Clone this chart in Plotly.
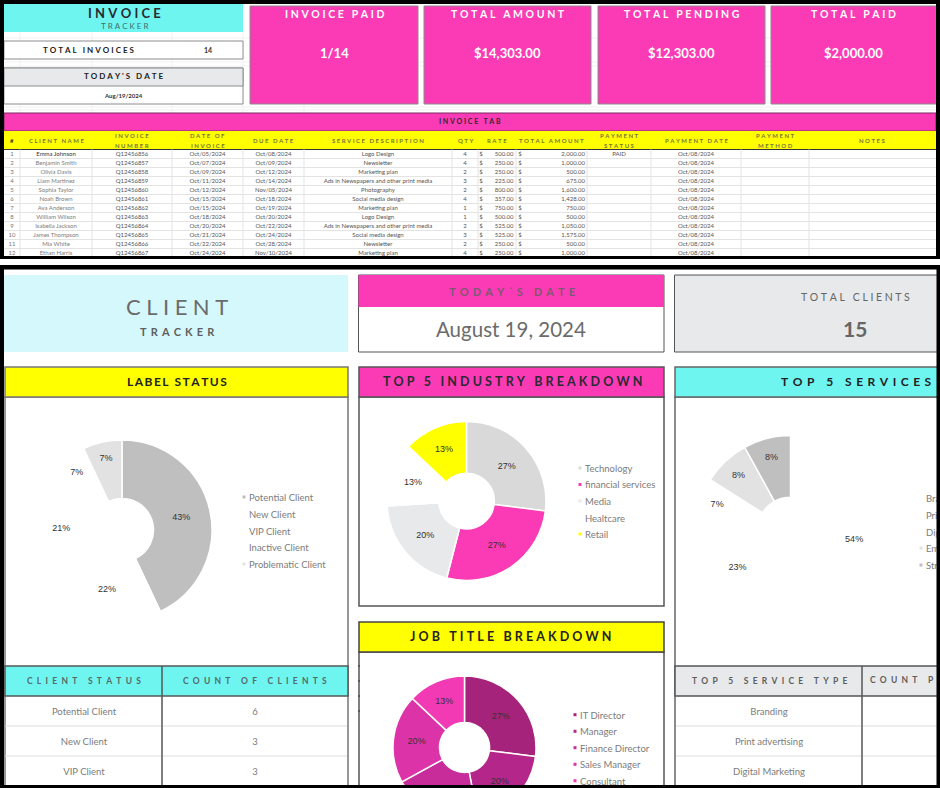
import plotly.graph_objects as go

W, H = 940, 860  # taller than the window so the job title donut runs off the bottom
FONT = "Lato"
PINK = "#fb3ab5"
CYAN = "#6ff5ef"
YELLOW = "#ffff00"
PALE = "#e7e9ea"
DARK = "#2a2a33"
GREY = "#6e6e6e"

# invoice sheet
kpi_titles = ["INVOICE PAID", "TOTAL AMOUNT", "TOTAL PENDING", "TOTAL PAID"]
kpi_values = ["1/14", "$14,303.00", "$12,303.00", "$2,000.00"]
kpi_left = [250, 424, 598, 771]
kpi_right = [418, 591, 765, 936]

col_edges = [4, 20, 92, 172, 243, 304, 452, 478, 516, 587, 651, 741, 809, 936]
col_heads = ["#", "CLIENT NAME", "INVOICE|NUMBER", "DATE OF|INVOICE", "DUE DATE", "SERVICE DESCRIPTION", "QTY",
             "RATE", "TOTAL AMOUNT", "PAYMENT|STATUS", "PAYMENT DATE", "PAYMENT|METHOD", "NOTES"]
row_no = ["1", "2", "3", "4", "5", "6", "7", "8", "9", "10", "11", "12"]
clients = ["Emma Johnson", "Benjamin Smith", "Olivia Davis", "Liam Martinez", "Sophia Taylor", "Noah Brown",
           "Ava Anderson", "William Wilson", "Isabella Jackson", "James Thompson", "Mia White", "Ethan Harris"]
invoice_no = ["Q12456856", "Q12456857", "Q12456858", "Q12456859", "Q12456860", "Q12456861",
              "Q12456862", "Q12456863", "Q12456864", "Q12456865", "Q12456866", "Q12456867"]
invoice_date = ["Oct/05/2024", "Oct/07/2024", "Oct/09/2024", "Oct/11/2024", "Oct/12/2024", "Oct/15/2024",
                "Oct/15/2024", "Oct/18/2024", "Oct/20/2024", "Oct/21/2024", "Oct/22/2024", "Oct/24/2024"]
due_date = ["Oct/08/2024", "Oct/09/2024", "Oct/12/2024", "Oct/14/2024", "Nov/05/2024", "Oct/18/2024",
            "Oct/19/2024", "Oct/20/2024", "Oct/22/2024", "Oct/24/2024", "Oct/28/2024", "Nov/10/2024"]
services = ["Logo Design", "Newsletter", "Marketing plan", "Ads in Newspapers and other print media", "Photography",
            "Social media design", "Marketing plan", "Logo Design", "Ads in Newspapers and other print media",
            "Social media design", "Newsletter", "Marketing plan"]
qty = ["4", "4", "2", "3", "2", "4", "1", "1", "2", "3", "2", "4"]
rate = ["500.00", "250.00", "250.00", "225.00", "800.00", "357.00", "750.00", "500.00", "525.00", "525.00", "250.00", "250.00"]
total = ["2,000.00", "1,000.00", "500.00", "675.00", "1,600.00", "1,428.00", "750.00", "500.00", "1,050.00", "1,575.00", "500.00", "1,000.00"]
status = ["PAID", "", "", "", "", "", "", "", "", "", "", ""]
paid_on = ["Oct/08/2024"] * 12

# client sheet
label_names = ["Potential Client", "New Client", "VIP Client", "Inactive Client", "Problematic Client"]
label_pct = [43, 22, 21, 7, 7]
label_colors = ["#bfbfbf", "#ffffff", "#ffffff", "#ffffff", "#e2e2e2"]

industry_names = ["Technology", "financial services", "Media", "Healtcare", "Retail"]
industry_pct = [27, 27, 20, 13, 13]
industry_colors = ["#d9d9d9", PINK, PALE, "#ffffff", YELLOW]

service_names = ["Branding", "Print advertising", "Digital Marketing", "Email marketing", "Strategy"]
service_pct = [54, 23, 7, 8, 8]
service_colors = ["#ffffff", "#ffffff", "#ffffff", "#e2e2e2", "#bfbfbf"]

job_names = ["IT Director", "Manager", "Finance Director", "Sales Manager", "Consultant"]
job_pct = [27, 20, 20, 20, 13]
job_colors = ["#a6237c", "#b4268a", "#c82c9b", "#dd33a9", "#f23ab5"]

client_status = ["Potential Client", "New Client", "VIP Client"]
client_count = ["6", "3", "3"]
service_rows = ["Branding", "Print advertising", "Digital Marketing"]

shapes = []
notes = []
traces = []


def box(x0, y0, x1, y1, fill="rgba(0,0,0,0)", line=None, width=1, layer="below"):
    shapes.append(dict(type="rect", xref="x", yref="y", x0=x0, y0=y0, x1=x1, y1=y1, fillcolor=fill,
                       line=dict(color=line, width=width) if line else dict(width=0), layer=layer))


def rule(x0, y0, x1, y1, color="#e3e3e3", width=1, layer="below"):
    shapes.append(dict(type="line", xref="x", yref="y", x0=x0, y0=y0, x1=x1, y1=y1,
                       line=dict(color=color, width=width), layer=layer))


def spaced(s, gaps=1):
    return ("\u2009" * gaps).join(s)


def label(x, y, text, size, color=GREY, bold=False, anchor="center"):
    notes.append(dict(x=x, y=y, xref="x", yref="y", text=text, showarrow=False, xanchor=anchor, yanchor="middle",
                      font=dict(family=FONT, size=size, color=color, weight=700 if bold else 400)))


def cells(xs, ys, texts, size=6, color="#555555", pos="middle center", bold=False):
    # drawn as a trace so the black frame can sit on top of clipped rows
    ys = [y + size * 0.15 for y in ys]
    traces.append(go.Scatter(x=xs, y=ys, text=texts, mode="text", textposition=pos, hoverinfo="skip", showlegend=False,
                             textfont=dict(family=FONT, size=size, color=color, weight=700 if bold else 400)))


def donut(cx, cy, r, names, pct, colors):
    traces.append(go.Pie(labels=names, values=pct, marker=dict(colors=colors, line=dict(color="#ffffff", width=1.5)),
                         hole=0.35, sort=False, direction="clockwise", rotation=0, showlegend=False,
                         texttemplate="%{value}%", textposition="inside", insidetextorientation="horizontal",
                         insidetextfont=dict(family="Liberation Sans", size=9, color="#333333"), hoverinfo="skip",
                         domain=dict(x=[(cx - r) / W, min((cx + r) / W, 1)], y=[1 - (cy + r) / H, 1 - (cy - r) / H])))


def legend_list(x, ys, names, colors, size=9.5):
    for y, c in zip(ys, colors):
        box(x - 6.5, y - 1.5, x - 3.5, y + 1.5, fill=c)
    cells([x] * len(names), ys, names, size=size, color="#7c7c7c", pos="middle right")


# ---- invoice sheet ----
for x in [20, 92, 172, 243, 304]:
    rule(x, 32, x, 113, "#f1f1f1")
for y in [38, 62, 66, 107, 110]:
    rule(4, y, 936, y, "#f1f1f1")

box(4, 4, 243, 32, fill=CYAN)
label(124, 13, spaced("INVOICE", 2), 13, DARK, True)
label(124, 26, spaced("TRACKER", 2), 8, "#3d6f70")
box(4, 41, 243, 59, fill="#ffffff", line="#8c8c8c")
label(89, 49.5, spaced("TOTAL INVOICES", 2), 8, "#222222", True)
label(208, 49.5, "14", 7, "#333333", True)
box(4, 68, 243, 104, fill="#ffffff", line="#8c8c8c")
box(4, 68, 243, 86, fill=PALE, line="#8c8c8c")
label(124, 76, spaced("TODAY'S DATE", 2), 8, "#222222", True)
label(123, 95, "Aug/19/2024", 6, "#333333", True)

for x0, x1, t, v in zip(kpi_left, kpi_right, kpi_titles, kpi_values):
    box(x0, 6, x1, 104, fill=PINK, line="#8c8c8c")
    label((x0 + x1) / 2, 14, spaced(t, 2), 10.5, "#ffffff", True)
    label((x0 + x1) / 2, 53, v, 13, "#ffffff", True)

box(4, 113, 936, 131, fill=PINK, line="#7a2a63")
label(470, 121, spaced("INVOICE TAB", 2), 7, DARK, True)
box(4, 131, 936, 149.5, fill=YELLOW)
rule(4, 149.5, 936, 149.5, "#333333", 1)

centers = [(a + b) / 2 for a, b in zip(col_edges[:-1], col_edges[1:])]
for cx, head in zip(centers, col_heads):
    parts = head.split("|")
    if len(parts) == 1:
        label(cx, 140, spaced(parts[0], 2), 6, "#77773f" if head != "#" else "#333333", True)
    else:
        label(cx, 135.5, spaced(parts[0], 2), 6, "#77773f", True)
        label(cx, 145, spaced(parts[1], 2), 6, "#77773f", True)

row_y = [154 + 9 * i for i in range(12)]
for y in row_y:
    rule(4, y + 4.5, 936, y + 4.5)
for x in col_edges[1:-1]:
    rule(x, 149.5, x, 258)

cells([centers[0]] * 12, row_y, row_no, color="#777777")
cells([centers[1]] * 12, row_y, clients, color=["#333333"] + ["#7c7c7c"] * 11)
cells([centers[2]] * 12, row_y, invoice_no)
cells([centers[3]] * 12, row_y, invoice_date)
cells([centers[4]] * 12, row_y, due_date)
cells([centers[5]] * 12, row_y, services)
cells([centers[6]] * 12, row_y, qty)
cells([481] * 12, row_y, ["$"] * 12)
cells([513.5] * 12, row_y, rate, pos="middle left")
cells([520] * 12, row_y, ["$"] * 12)
cells([585] * 12, row_y, total, pos="middle left")
cells([centers[9]] * 12, row_y, status)
cells([centers[10]] * 12, row_y, paid_on)

# ---- client sheet ----
box(4, 275, 348, 352, fill="#d5f8fd")
label(177, 306, spaced("CLIENT", 2), 22, "#6b6b6b")
label(177, 331, spaced("TRACKER", 3), 11, "#5f5f5f", True)

box(358.5, 275, 664, 352, fill="#ffffff", line="#555555")
box(358.5, 275, 664, 307, fill=PINK)
label(512, 291, spaced("TODAY´S DATE", 3), 11, "#7b5a70", True)
label(511, 329, "August 19, 2024", 20.5, "#6b6b6b")

box(674.5, 275, 945, 352, fill=PALE, line="#555555")
label(855, 297, spaced("TOTAL CLIENTS", 2), 10.5, "#666666")
label(855, 328, "15", 21, "#666666", True)

# panels
box(5, 397, 348, 790, fill="#ffffff", line="#777777", width=1.5)
box(5, 367, 348, 397, fill=YELLOW, line="#777777", width=1.5)
label(177, 381, spaced("LABEL STATUS", 1), 12, "#222222", True)

box(359, 397, 664, 606, fill="#ffffff", line="#555555", width=1.5)
box(359, 367, 664, 397, fill=PINK, line="#555555", width=1.5)
label(512, 381, spaced("TOP 5 INDUSTRY BREAKDOWN", 2), 12.5, DARK, True)

box(359, 652, 664, 790, fill="#ffffff", line="#555555", width=1.5)
box(359, 622, 664, 652, fill=YELLOW, line="#444444", width=1.5)
label(511, 636, spaced("JOB TITLE BREAKDOWN", 2), 12.5, "#222222", True)
for y in [666, 681, 696, 711]:
    rule(358, y, 360, y, "#333333", 1)

box(675, 397, 945, 790, fill="#ffffff", line="#666666", width=1.5)
box(675, 367, 945, 397, fill=CYAN, line="#666666", width=1.5)
label(856, 381, spaced("TOP 5 SERVICES", 3), 12, "#222222", True)

# small tables under the donuts
box(5, 666, 348, 696, fill=CYAN, line="#555555", width=1.5)
rule(162, 666, 162, 790, "#555555", 1.5)
label(84, 681, spaced("CLIENT STATUS", 4), 8.5, "#55696a", True)
label(255, 681, spaced("COUNT OF CLIENTS", 4), 8.5, "#55696a", True)
box(675, 666, 945, 696, fill=PALE, line="#555555", width=1.5)
rule(862, 666, 862, 790, "#555555", 1.5)
label(769, 681, spaced("TOP 5 SERVICE TYPE", 4), 8.5, "#5e5e5e", True)
cells([870], [680], [spaced("COUNT PER SERVICE", 4)], size=8.5, color="#5e5e5e", pos="middle right", bold=True)
for y in [726, 756]:
    rule(5, y, 161, y, "#dddddd")
    rule(163, y, 347, y, "#dddddd")
    rule(676, y, 861, y, "#dddddd")
    rule(863, y, 940, y, "#dddddd")
table_y = [711, 741, 771]
cells([84] * 3, table_y, client_status, size=9.5, color="#7c7c7c")
cells([255] * 3, table_y, client_count, size=9.5, color="#7c7c7c")
cells([769] * 3, table_y, service_rows, size=9.5, color="#7c7c7c")

# donuts and their legends
donut(122, 530, 90, label_names, label_pct, label_colors)
legend_list(249, [497, 514.5, 531, 547.5, 564], label_names, label_colors)
donut(466.5, 501, 79.5, industry_names, industry_pct, industry_colors)
legend_list(585, [468, 484.5, 501, 518, 534], industry_names, industry_colors)
donut(790.5, 530.5, 95, service_names, service_pct, service_colors)
legend_list(926, [498, 515, 532, 548, 565], service_names, service_colors)
donut(464.5, 747.5, 71.5, job_names, job_pct, job_colors)
legend_list(580, [714.7, 731.3, 747.7, 764.3, 780.7], job_names, job_colors)

# black frame of the two pasted screenshots
for x0, y0, x1, y1 in [(0, 0, 940, 4), (0, 0, 4, 259), (936, 0, 940, 259), (0, 256, 940, 259),
                       (0, 265, 940, 269.5), (0, 265, 4, 860), (936.5, 265, 940, 860), (0, 785, 940, 860)]:
    box(x0, y0, x1, y1, fill="#000000", layer="above")

fig = go.Figure(data=traces)
fig.update_layout(width=W, height=H, margin=dict(l=0, r=0, t=0, b=0), paper_bgcolor="#ffffff", plot_bgcolor="#ffffff",
                  showlegend=False, shapes=shapes, annotations=notes,
                  xaxis=dict(range=[0, W], visible=False, fixedrange=True),
                  yaxis=dict(range=[H, 0], visible=False, fixedrange=True))
# page default margin would push everything 8px in
fig.write_html("out.html", config={"displayModeBar": False},
               post_script="document.body.style.margin='0';document.documentElement.style.overflow='hidden';")
